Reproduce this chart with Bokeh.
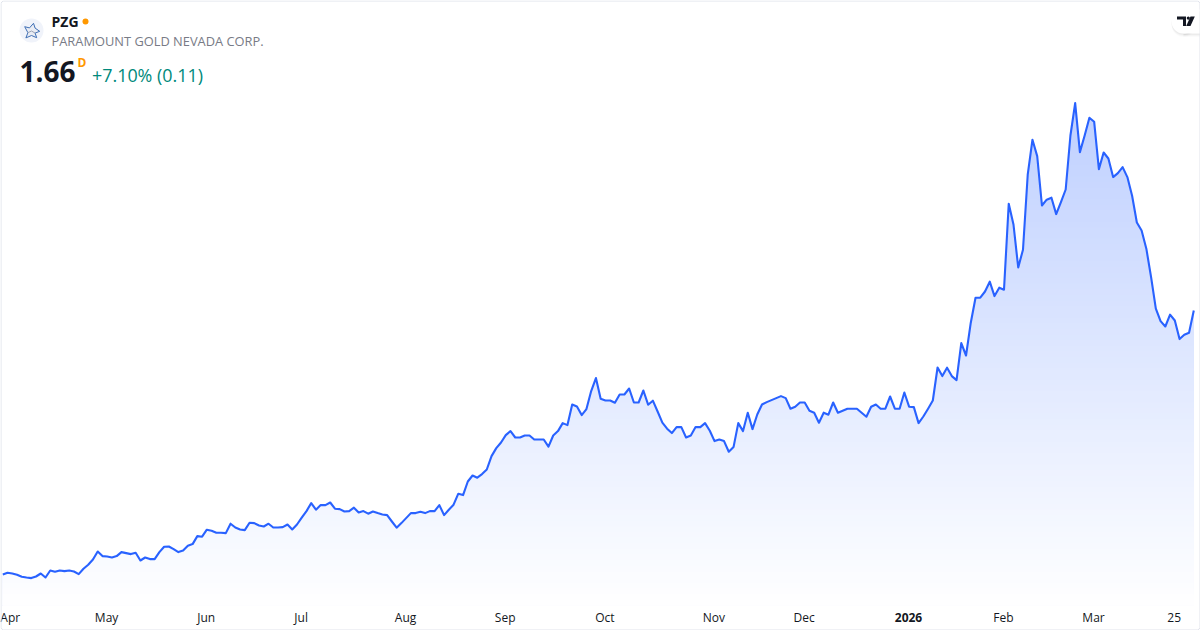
from bokeh.plotting import figure
from bokeh.models import Range1d
from bokeh.core.properties import value
from bokeh.embed import file_html
from bokeh.resources import INLINE
import numpy as np

symbol = "PZG"
company = "PARAMOUNT GOLD NEVADA CORP."
last_price = "1.66"
change = "+7.10% (0.11)"
interval = "D"

prices = [
 0.340,0.349,0.345,0.339,0.329,0.325,0.322,0.330,0.345,0.325,
 0.360,0.354,0.360,0.357,0.360,0.355,0.342,0.369,0.389,0.415,
 0.455,0.432,0.430,0.425,0.432,0.452,0.447,0.442,0.449,0.410,
 0.425,0.417,0.417,0.452,0.479,0.480,0.467,0.452,0.460,0.484,
 0.492,0.532,0.529,0.564,0.559,0.549,0.549,0.547,0.594,0.575,
 0.565,0.562,0.599,0.597,0.585,0.580,0.594,0.575,0.575,0.577,
 0.590,0.565,0.590,0.624,0.657,0.697,0.664,0.687,0.687,0.700,
 0.669,0.667,0.655,0.657,0.674,0.650,0.657,0.644,0.655,0.647,
 0.640,0.637,0.605,0.574,0.597,0.622,0.647,0.647,0.654,0.647,
 0.657,0.657,0.687,0.637,0.664,0.689,0.744,0.737,0.805,0.835,
 0.824,0.842,0.865,0.932,0.972,1.000,1.037,1.057,1.025,1.025,
 1.035,1.035,1.015,1.015,1.015,0.979,1.035,1.057,1.097,1.087,
 1.190,1.180,1.137,1.167,1.257,1.322,1.219,1.210,1.210,1.199,
 1.240,1.240,1.270,1.200,1.200,1.260,1.189,1.209,1.155,1.099,
 1.069,1.047,1.077,1.077,1.025,1.035,1.077,1.077,1.097,1.059,
 1.007,1.015,1.007,0.954,0.977,1.097,1.057,1.149,1.067,1.140,
 1.190,1.202,1.212,1.222,1.232,1.222,1.169,1.179,1.200,1.200,
 1.159,1.149,1.099,1.149,1.139,1.200,1.149,1.159,1.169,1.169,
 1.169,1.149,1.129,1.179,1.190,1.169,1.169,1.230,1.169,1.169,
 1.250,1.179,1.177,1.097,1.130,1.169,1.210,1.375,1.332,1.374,
 1.332,1.312,1.497,1.435,1.599,1.724,1.724,1.755,1.804,1.732,
 1.774,1.764,2.194,2.090,1.875,1.964,2.339,2.514,2.432,2.185,
 2.214,2.224,2.142,2.202,2.265,2.535,2.697,2.452,2.535,2.624,
 2.604,2.367,2.450,2.420,2.327,2.347,2.377,2.327,2.234,2.100,
 2.060,1.969,1.827,1.669,1.607,1.580,1.639,1.610,1.517,1.539,
 1.549,1.660,
]
tick_index = [1.7, 22, 43, 63, 85, 106, 127, 150, 169, 191, 211, 230, 247]
tick_labels = ["Apr", "May", "Jun", "Jul", "Aug", "Sep", "Oct", "Nov", "Dec", "2026", "Feb", "Mar", "25"]
tick_bold = ["2026"]

FONT = value("Open Sans")
W, H = 1200, 630
x = np.arange(len(prices))
y = np.array(prices)

p = figure(width=W, height=H, output_backend="svg", toolbar_location=None,
           x_range=Range1d(-2.3 / 4.745, (W - 2.3) / 4.745),
           y_range=Range1d(0.06, 3.21),
           x_axis_type=None, y_axis_type=None,
           min_border=0, min_border_left=0, min_border_right=0,
           min_border_top=0, min_border_bottom=0,
           outline_line_color=None, background_fill_color="white",
           border_fill_color="white")
p.grid.visible = False
p.styles = {"position": "absolute", "left": "0px", "top": "0px"}

# overlay coordinates for the frame, header and badge
p.extra_x_ranges["px"] = Range1d(0, W)
p.extra_y_ranges["px"] = Range1d(H, 0)
PX = dict(x_range_name="px", y_range_name="px")

# area gradient, painted from the top colour down
base = 0.185
top = y.max()
for lv in np.linspace(top, base, 90)[:-1]:
    a = 0.30 * (lv - base) / (top - base)
    r, g, b = (int(round(255 - (255 - c) * a)) for c in (41, 98, 255))
    p.varea(x=x, y1=base, y2=np.minimum(y, lv), fill_color=f"#{r:02x}{g:02x}{b:02x}")
p.line(x, y, line_color="#2962FF", line_width=2.1, line_join="round")

# time labels
for xi, lab in zip(tick_index, tick_labels):
    p.text([xi], [617.3], text=[lab], text_font=FONT, text_font_size="12px", x_offset=-0.6,
           text_color="#131722", text_align="center", text_baseline="alphabetic",
           text_font_style="bold" if lab in tick_bold else "normal", y_range_name="px")

# frame with slightly rounded corners
fx = [3, 1197, 1198.6, 1199.5, 1199.5, 1198.6, 1197, 3, 1.4, 0.5, 0.5, 1.4, 3]
fy = [0.5, 0.5, 1.4, 3, 627, 628.6, 629.5, 629.5, 628.6, 627, 3, 1.4, 0.5]
p.line(fx, fy, line_color="#E0E3EB", line_width=1, **PX)

# symbol logo
p.circle([31], [30], radius=12, fill_color="#F0F3FA", line_color=None, **PX)
star_x = [33, 34.6, 39.2, 34.6, 36.2, 31, 25.4, 27.4, 24.2, 29]
star_y = [22.8, 27.6, 30.8, 32.6, 37.2, 35, 37.4, 32.2, 26.2, 27.4]
p.patch(star_x, star_y, fill_color="#E9ECF4", line_color="#3F6FB5", line_width=1, **PX)
p.line([27.4, 31, 34.6], [32.2, 30.5, 32.6], line_color="#9AA3B5", line_width=1, **PX)

# header
p.text([51], [20.5], text=[symbol], text_font=FONT, text_font_size="14px", text_font_style="bold",
       text_color="#131722", text_baseline="alphabetic", **PX)
p.circle([85], [21], radius=3, fill_color="#FF9800", line_color=None, **PX)
p.text([51], [40], text=[company], text_font=FONT, text_font_size="12.85px",
       text_color="#787B86", text_baseline="alphabetic", **PX)
p.text([19], [70.7], text=[last_price], text_font=FONT, text_font_size="28px", text_font_style="bold",
       text_color="#131722", text_baseline="alphabetic", **PX)
p.text([77], [61.5], text=[interval], text_font=FONT, text_font_size="12px", text_font_style="bold",
       text_color="#FF9800", text_baseline="alphabetic", **PX)
p.text([91.5], [74], text=[change], text_font=FONT, text_font_size="17.9px",
       text_color="#00897B", text_baseline="alphabetic", **PX)

# TradingView badge: soft shadow, white pill, mark
for off, alpha in ((3.5, 0.015), (2.5, 0.025), (1.5, 0.035)):
    p.circle([1183], [21 + off], radius=12, fill_color="black", fill_alpha=alpha, line_color=None, **PX)
    p.quad(left=[1183], right=[1199], top=[9 + off], bottom=[33 + off], fill_color="black", fill_alpha=alpha,
           line_color=None, **PX)
p.circle([1183], [21], radius=12, fill_color="white", line_color=None, **PX)
p.quad(left=[1183], right=[1199], top=[9], bottom=[33], fill_color="white", line_color=None, **PX)
p.patch([1176.5, 1185.5, 1185.5, 1182.5, 1182.5, 1176.5], [16, 16, 25.5, 25.5, 19, 19], fill_color="#131722", line_color=None, **PX)
p.circle([1187.8], [17.6], radius=1.6, fill_color="#131722", line_color=None, **PX)
p.patch([1190, 1194.3, 1190, 1185.7], [16, 16, 25.5, 25.5], fill_color="#131722", line_color=None, **PX)

open("out.html", "w").write(file_html(p, INLINE))
